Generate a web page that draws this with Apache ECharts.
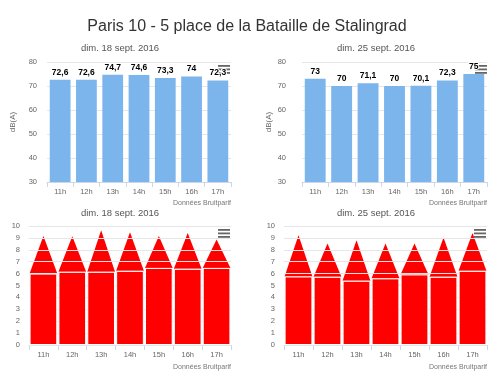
<!DOCTYPE html>
<html><head><meta charset="utf-8">
<script src="https://cdn.jsdelivr.net/npm/echarts@6/dist/echarts.min.js"></script>
<style>html,body{margin:0;padding:0;background:#fff}#c{width:500px;height:390px}</style>
</head><body><div id="c"></div>
<script>
var hours = ['11h','12h','13h','14h','15h','16h','17h'];
var mainTitle = 'Paris 10 - 5 place de la Bataille de Stalingrad';
var dates = ['dim. 18 sept. 2016', 'dim. 25 sept. 2016'];
var creditText = 'Données Bruitparif';
var unitName = 'dB(A)';
// top charts: hourly levels dB(A)
var leq18 = [72.6, 72.6, 74.7, 74.6, 73.3, 74, 72.3];
var leq25 = [73, 70, 71.1, 70, 70.1, 72.3, 75];
// bottom charts: rectangle base and triangle apex
var base18 = [6.0, 6.15, 6.15, 6.23, 6.48, 6.4, 6.48];
var peak18 = [9.15, 9.14, 9.64, 9.47, 9.16, 9.41, 8.86];
var base25 = [5.76, 5.73, 5.4, 5.6, 5.93, 5.73, 6.23];
var peak25 = [9.22, 8.52, 8.8, 8.52, 8.52, 9.03, 9.41];
// tick ranges
var topTicks = [30, 40, 50, 60, 70, 80];
var bottomTicks = [0, 1, 2, 3, 4, 5, 6, 7, 8, 9, 10];

var FONT = 'Liberation Sans, Arial, sans-serif';
var chart = echarts.init(document.getElementById('c'), null, {renderer: 'canvas'});

var grids = [
  {left: 47, top: 62, width: 184, height: 120},
  {left: 302, top: 62, width: 185, height: 120},
  {left: 29, top: 226, width: 202, height: 119},
  {left: 284, top: 226, width: 203, height: 119}
];

function xAx(i) {
  return {
    type: 'category', gridIndex: i, data: hours, boundaryGap: true,
    axisLine: {lineStyle: {color: '#ccd6eb', width: 1}},
    axisTick: {show: true, length: 5, lineStyle: {color: '#ccd6eb'}},
    axisLabel: {color: '#666', fontSize: 7.5, fontFamily: FONT, margin: 6},
    splitLine: {show: false}
  };
}
function yTop(i, margin, gap) {
  return {
    type: 'value', gridIndex: i, min: topTicks[0], max: topTicks[topTicks.length - 1],
    interval: topTicks[1] - topTicks[0],
    axisLine: {show: false}, axisTick: {show: false},
    splitLine: {lineStyle: {color: '#e6e6e6'}},
    axisLabel: {color: '#666', fontSize: 7.5, fontFamily: FONT, margin: margin},
    name: unitName, nameLocation: 'middle', nameGap: gap,
    nameTextStyle: {color: '#666', fontSize: 8, fontFamily: FONT}
  };
}
function yBot(i, margin) {
  return {
    type: 'value', gridIndex: i, min: bottomTicks[0], max: bottomTicks[bottomTicks.length - 1],
    interval: bottomTicks[1] - bottomTicks[0], z: 1,
    axisLine: {show: false}, axisTick: {show: false},
    splitLine: {lineStyle: {color: '#e6e6e6'}},
    axisLabel: {color: '#666', fontSize: 7.5, fontFamily: FONT, margin: margin}
  };
}
function topBar(i, data) {
  return {
    type: 'bar', xAxisIndex: i, yAxisIndex: i, data: data, barCategoryGap: '21%',
    itemStyle: {color: '#7cb5ec'}, z: 2,
    label: {
      show: true, position: 'top', distance: 3, color: '#000', fontSize: 8.5,
      fontWeight: 'bold', fontFamily: FONT, textBorderColor: '#fff', textBorderWidth: 2,
      formatter: function (p) { return String(p.value).replace('.', ','); }
    }
  };
}
function triSeries(i, base, peak) {
  var d = base.map(function (b, k) { return [k, b, peak[k]]; });
  return {
    type: 'custom', xAxisIndex: i, yAxisIndex: i, z: 0, data: d,
    encode: {x: 0, y: [1, 2]},
    renderItem: function (params, api) {
      var x = api.value(0), lo = api.value(1), hi = api.value(2);
      var pLo = api.coord([x, lo]), pHi = api.coord([x, hi]);
      var w = api.size([1, 0])[0] * 0.96;
      return {
        type: 'polygon',
        shape: {points: [[pLo[0] - w / 2, pLo[1]], [pLo[0] + w / 2, pLo[1]], [pHi[0], pHi[1]]]},
        style: {fill: '#ff0000'}
      };
    }
  };
}
function rectBar(i, data) {
  return {
    type: 'bar', xAxisIndex: i, yAxisIndex: i, data: data, barCategoryGap: '4%', z: 2,
    itemStyle: {color: '#ff0000', borderColor: '#ffffff', borderWidth: 1}
  };
}
function txt(x, y, s, size, color, align) {
  return {type: 'text', x: x, y: y, z: 20, silent: true,
    style: {text: s, font: size + 'px ' + FONT, fill: color, align: align || 'center', verticalAlign: 'middle'}};
}
function menu(x, y, backing) {
  var ch = [];
  if (backing) ch.push({type: 'rect', shape: {x: -3, y: -3, width: 18, height: 14}, style: {fill: '#fff'}});
  for (var k = 0; k < 3; k++) ch.push({type: 'rect', shape: {x: 0, y: k * 3.5, width: 12, height: 1.8}, style: {fill: '#666'}});
  return {type: 'group', x: x, y: y, z: backing ? 20 : 1, silent: true, children: ch};
}

chart.setOption({
  animation: false,
  backgroundColor: '#fff',
  grid: grids,
  xAxis: [xAx(0), xAx(1), xAx(2), xAx(3)],
  yAxis: [yTop(0, 10, 30), yTop(1, 16, 29), yBot(2, 9), yBot(3, 9)],
  series: [
    topBar(0, leq18), topBar(1, leq25),
    triSeries(2, base18, peak18), rectBar(2, base18),
    triSeries(3, base25, peak25), rectBar(3, base25)
  ],
  graphic: [
    txt(247, 26.5, mainTitle, 16, '#333'),
    txt(120, 48.4, dates[0], 9.5, '#555'),
    txt(376, 48.4, dates[1], 9.5, '#555'),
    txt(120, 213.4, dates[0], 9.5, '#555'),
    txt(376, 213.4, dates[1], 9.5, '#555'),
    txt(231, 202.7, creditText, 7, '#777', 'right'),
    txt(487, 202.7, creditText, 7, '#777', 'right'),
    txt(231, 366.7, creditText, 7, '#777', 'right'),
    txt(487, 366.7, creditText, 7, '#777', 'right'),
    menu(218, 65, false), menu(475, 65, false),
    menu(218, 229, true), menu(474, 229, true)
  ]
});
</script></body></html>
